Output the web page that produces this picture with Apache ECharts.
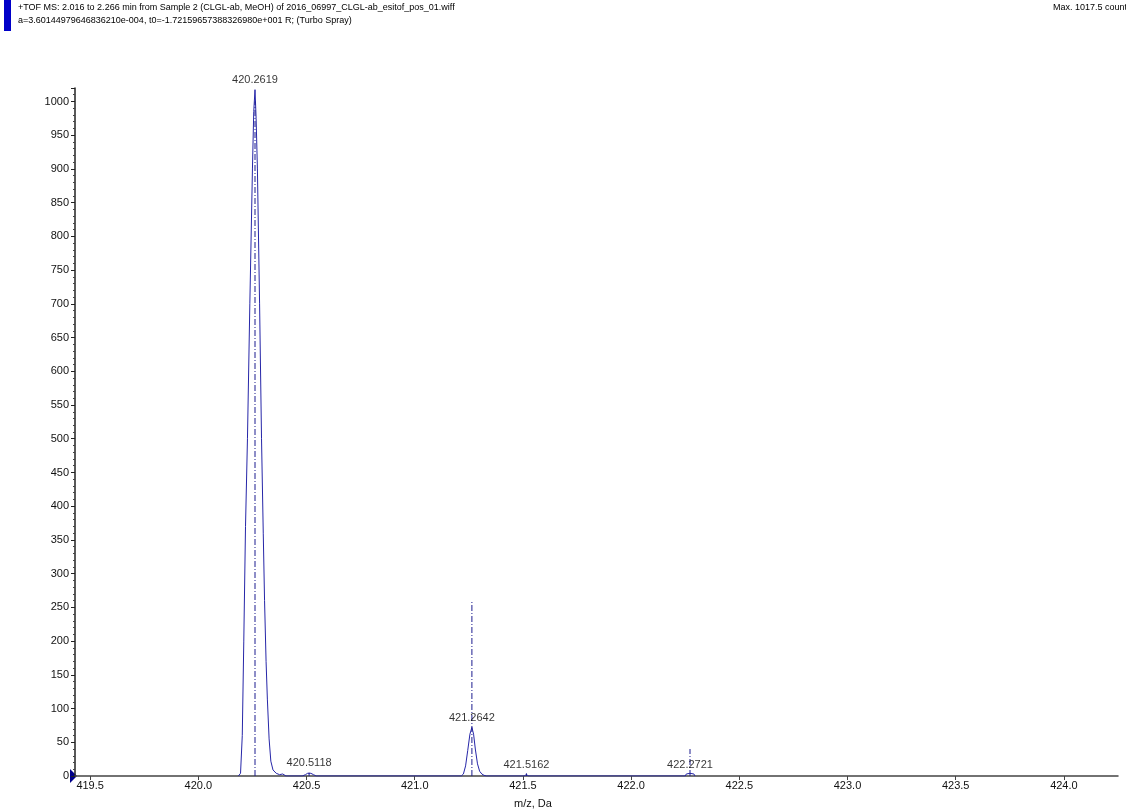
<!DOCTYPE html>
<html>
<head>
<meta charset="utf-8">
<script src="https://cdn.jsdelivr.net/npm/echarts@6/dist/echarts.min.js"></script>
<style>
html,body{margin:0;padding:0;background:#fff;}
#chart{width:1126px;height:810px;}
</style>
</head>
<body>
<div id="chart"></div>
<script>
// Profile spectrum (m/z, counts)
const profileMz = [
  420.185, 420.195, 420.203, 420.210, 420.218, 420.227, 420.238, 420.250, 420.256, 420.2619,
  420.267, 420.273, 420.283, 420.292, 420.300, 420.306, 420.313, 420.319, 420.327, 420.335,
  420.345, 420.360, 420.375, 420.390, 420.405,
  420.480, 420.495, 420.505, 420.512, 420.520, 420.532, 420.545,
  421.215, 421.225, 421.235, 421.245, 421.255, 421.2642, 421.272, 421.280, 421.290, 421.300,
  421.310, 421.320, 421.332,
  421.505, 421.516, 421.527,
  422.250, 422.255, 422.272, 422.290, 422.295
];
const profileCounts = [
  0, 4, 60, 200, 370, 500, 700, 900, 985, 1017.5,
  975, 900, 700, 500, 360, 260, 170, 114, 55, 22,
  9, 4, 2, 3, 0,
  0, 2, 4, 5, 4, 2, 0,
  0, 3, 15, 38, 62, 72, 62, 40, 18, 7,
  3, 1, 0,
  0, 2, 0,
  0, 3, 4, 3, 0
];
// Centroid sticks
const stickMz = [420.2619, 420.5118, 421.2642, 421.5162, 422.2721];
const stickCounts = [1000, 5, 258, 4, 40];
// Peak labels
const peakLabels = ['420.2619', '420.5118', '421.2642', '421.5162', '422.2721'];
const peakLabelMz = [420.2619, 420.5118, 421.2642, 421.5162, 422.2721];
const peakLabelCounts = [1017.5, 5, 72, 3, 3];

const headerLine1 = '+TOF MS: 2.016 to 2.266 min from Sample 2 (CLGL-ab, MeOH) of 2016_06997_CLGL-ab_esitof_pos_01.wiff';
const headerLine2 = 'a=3.60144979646836210e-004, t0=-1.72159657388326980e+001 R; (Turbo Spray)';
const maxText = 'Max. 1017.5 counts.';
const xAxisName = 'm/z, Da';

const FONT = 'Liberation Sans';
const chart = echarts.init(document.getElementById('chart'));

const option = {
  animation: false,
  backgroundColor: '#fff',
  grid: { left: 75, right: 8, top: 88, bottom: 34 },
  xAxis: {
    type: 'value',
    min: 419.43,
    max: 424.25,
    splitNumber: 10,
    axisLine: { show: true, lineStyle: { color: '#444', width: 1.5 } },
    axisTick: { show: true, length: 4, lineStyle: { color: '#444' } },
    axisLabel: {
      formatter: v => v.toFixed(1),
      showMinLabel: false, showMaxLabel: false,
      color: '#111', fontSize: 11, fontFamily: FONT, margin: 4
    },
    splitLine: { show: false }
  },
  yAxis: {
    type: 'value',
    min: 0,
    max: 1020,
    interval: 50,
    axisLine: { show: true, lineStyle: { color: '#222', width: 1.5 } },
    axisTick: { show: true, length: 4, lineStyle: { color: '#222' } },
    minorTick: { show: true, splitNumber: 5, length: 2, lineStyle: { color: '#444' } },
    axisLabel: {
      formatter: v => String(v),
      showMaxLabel: false,
      color: '#111', fontSize: 11, fontFamily: FONT, margin: 6
    },
    splitLine: { show: false }
  },
  series: [
    {
      type: 'line',
      data: profileMz.map((m, i) => [m, profileCounts[i]]),
      showSymbol: false,
      lineStyle: { color: '#2626a8', width: 1 },
      z: 3
    },
    {
      type: 'custom',
      data: stickMz.map((m, i) => [m, stickCounts[i]]),
      renderItem: function (params, api) {
        const x = api.value(0), h = api.value(1);
        const p0 = api.coord([x, 0]);
        const p1 = api.coord([x, h]);
        return {
          type: 'line',
          shape: { x1: p0[0], y1: p0[1], x2: p1[0], y2: p1[1] },
          style: { stroke: '#1c1c8f', lineWidth: 1, lineDash: [6, 2, 1, 2] }
        };
      },
      z: 4
    },
    {
      type: 'scatter',
      data: peakLabelMz.map((m, i) => ({ value: [m, peakLabelCounts[i]], name: peakLabels[i] })),
      symbolSize: 2,
      itemStyle: { color: 'rgba(0,0,0,0)' },
      label: {
        show: true, position: 'top', distance: 3,
        formatter: '{b}', color: '#000', fontSize: 11, fontFamily: FONT
      },
      labelLayout: { hideOverlap: false },
      z: 5
    }
  ],
  graphic: [
    { type: 'rect', left: 4, top: 0, shape: { width: 7, height: 31 }, style: { fill: '#0000c8' } },
    { type: 'text', left: 18, top: 3, style: { text: headerLine1, font: '9px "Liberation Sans"', fill: '#000' } },
    { type: 'text', left: 18, top: 16, style: { text: headerLine2, font: '9px "Liberation Sans"', fill: '#000' } },
    { type: 'text', left: 1053, top: 3, style: { text: maxText, font: '9px "Liberation Sans"', fill: '#000' } },
    { type: 'text', left: 514, top: 798, style: { text: xAxisName, font: '11px "Liberation Sans"', fill: '#111' } },
    { type: 'polygon', shape: { points: [[70, 769], [70, 783], [77, 776]] }, style: { fill: '#00008b' } }
  ]
};
chart.setOption(option);
</script>
</body>
</html>
